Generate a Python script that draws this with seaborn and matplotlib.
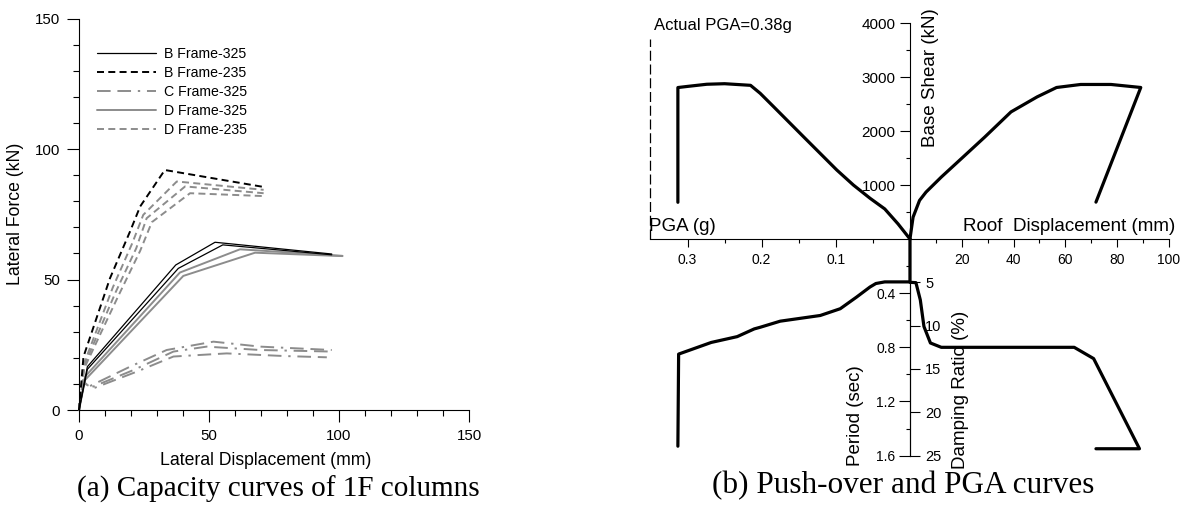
import matplotlib
matplotlib.use("Agg")
import matplotlib.pyplot as plt
from matplotlib.lines import Line2D
import seaborn as sns

# (a) capacity curves of 1F columns: lateral displacement (mm) / lateral force (kN)
b325_1_x = [0, 3.2, 37.2, 52.3, 97.2]
b325_1_y = [0, 16.6, 55.6, 64.3, 59.8]
b325_2_x = [0, 3.2, 38.2, 55.3, 97.2]
b325_2_y = [0, 15.6, 54.3, 63.3, 59.5]

b235_x = [0, 1.7, 11.9, 19.6, 23.5, 33.0, 71.0]
b235_y = [0, 20.4, 50.5, 68.4, 78.0, 92.0, 85.5]

c325_1_x = [0, 1.5, 3.6, 19.6, 33.7, 51.7, 69.6, 97.2]
c325_1_y = [0, 11.5, 8.9, 16.6, 23.0, 26.2, 24.3, 23.0]
c325_2_x = [0, 1.5, 4.5, 20.9, 36.3, 49.1, 69.6, 97.2]
c325_2_y = [0, 11.0, 8.6, 15.3, 22.4, 24.3, 23.0, 22.4]
c325_3_x = [0, 1.5, 5.5, 22.2, 36.3, 56.8, 78.6, 95.3]
c325_3_y = [0, 10.5, 8.3, 14.7, 20.5, 21.7, 20.7, 20.2]

d325_1_x = [0, 2.3, 38.8, 61.9, 101.3]
d325_1_y = [0, 12.8, 52.7, 61.6, 59.1]
d325_2_x = [0, 2.3, 40.1, 67.7, 101.3]
d325_2_y = [0, 11.5, 51.4, 60.3, 59.0]

d235_1_x = [0, 2.0, 13.0, 20.5, 24.7, 37.6, 71.0]
d235_1_y = [0, 18.0, 47.0, 64.0, 74.8, 87.6, 84.4]
d235_2_x = [0, 2.0, 14.0, 22.0, 26.0, 40.8, 71.0]
d235_2_y = [0, 17.0, 45.0, 62.0, 73.5, 85.7, 83.1]
d235_3_x = [0, 2.0, 15.0, 23.5, 28.0, 42.7, 71.0]
d235_3_y = [0, 16.0, 43.5, 61.0, 72.0, 83.1, 82.0]

legend_labels = ["B Frame-325", "B Frame-235", "C Frame-325", "D Frame-325", "D Frame-235"]

# (b) push-over and PGA curves
roof_disp = [0, 1.2, 3.7, 6.2, 12.1, 20.5, 28.9, 39.0, 49.1, 56.6, 65.9, 77.6, 89.1, 71.8]
base_shear = [0, 405, 716, 870, 1149, 1520, 1892, 2357, 2636, 2810, 2866, 2866, 2810, 684]

pga_s = [0.313, 0.313, 0.300, 0.274, 0.250, 0.215, 0.202, 0.184, 0.1436, 0.0987, 0.0763, 0.0538, 0.034, 0.016, 0]
shear_s = [681, 2809, 2830, 2870, 2880, 2850, 2702, 2455, 1897, 1280, 1001, 755, 558, 279, 0]

pga_p = [0, 0, 0.034, 0.046, 0.054, 0.072, 0.094, 0.121, 0.175, 0.202, 0.210, 0.233, 0.268, 0.312, 0.313]
period = [0, 0.317, 0.317, 0.329, 0.355, 0.429, 0.515, 0.565, 0.607, 0.652, 0.664, 0.721, 0.764, 0.850, 1.530]

disp_d = [0, 2.3, 4.0, 5.4, 7.9, 12.1, 63.4, 70.9, 88.6, 71.8]
damping = [5.0, 5.04, 7.04, 10.1, 12.0, 12.5, 12.5, 13.8, 24.2, 24.2]

actual_pga_x = [0.35, 0.35]
actual_pga_y = [0, 3700]

sns.set_style("ticks")
plt.rcParams['font.family'] = ['Liberation Sans', 'DejaVu Sans']
plt.rcParams['axes.linewidth'] = 0.8
for k in ['text.color', 'axes.labelcolor', 'axes.edgecolor', 'xtick.color', 'ytick.color']:
    plt.rcParams[k] = 'black'

fig = plt.figure(figsize=(11.85, 5.08), dpi=100)


def line(ax, x, y, **kw):
    sns.lineplot(x=x, y=y, ax=ax, sort=False, estimator=None, clip_on=False, **kw)


# ---------- (a)
ax = fig.add_axes([0.0667, 0.1929, 0.3291, 0.7703])
gray = '#8c8c8c'
dash = (0, (3.6, 2.2))
dashdot = (0, (7, 3.5, 7, 3.5, 1.2, 3.5))

for xs, ys in [(c325_1_x, c325_1_y), (c325_2_x, c325_2_y), (c325_3_x, c325_3_y)]:
    line(ax, xs, ys, color=gray, lw=1.4, linestyle=dashdot)
for xs, ys in [(d325_1_x, d325_1_y), (d325_2_x, d325_2_y)]:
    line(ax, xs, ys, color=gray, lw=1.4)
for xs, ys in [(d235_1_x, d235_1_y), (d235_2_x, d235_2_y), (d235_3_x, d235_3_y)]:
    line(ax, xs, ys, color=gray, lw=1.4, linestyle=dash)
for xs, ys in [(b325_1_x, b325_1_y), (b325_2_x, b325_2_y)]:
    line(ax, xs, ys, color='black', lw=0.9)
line(ax, b235_x, b235_y, color='black', lw=1.4, linestyle=dash)

handles = [Line2D([], [], color='black', lw=0.9),
           Line2D([], [], color='black', lw=1.4, linestyle=dash),
           Line2D([], [], color=gray, lw=1.4, linestyle=dashdot),
           Line2D([], [], color=gray, lw=1.4),
           Line2D([], [], color=gray, lw=1.4, linestyle=dash)]
ax.legend(handles, legend_labels, loc='upper left', bbox_to_anchor=(0.046, 0.927),
          frameon=False, fontsize=10.2, handlelength=4.2, handletextpad=0.55,
          labelspacing=0.34, borderpad=0, borderaxespad=0)

ax.set_xlim(0, 150)
ax.set_ylim(0, 150)
ax.set_xticks([0, 50, 100, 150])
ax.set_yticks([0, 50, 100, 150])
ax.set_xticks(range(0, 151, 10), minor=True)
ax.set_yticks(range(0, 151, 10), minor=True)
ax.tick_params(which='major', direction='out', length=8.5, width=0.8, labelsize=10.8, pad=5)
ax.tick_params(which='minor', direction='out', length=4, width=0.8)
ax.spines['top'].set_visible(False)
ax.spines['right'].set_visible(False)
ax.text(0.479, -0.13, "Lateral Displacement (mm)", transform=ax.transAxes,
        ha='center', va='center', fontsize=12.7)
ax.text(-0.164, 0.501, "Lateral Force (kN)", transform=ax.transAxes,
        ha='center', va='center', rotation=90, fontsize=12.7)

# ---------- (b)
ul = fig.add_axes([0.5489, 0.5295, 0.2190, 0.4246])
ur = fig.add_axes([0.7679, 0.5295, 0.2186, 0.4246])
ll = fig.add_axes([0.5489, 0.1030, 0.2190, 0.4266])
lr = fig.add_axes([0.7679, 0.1030, 0.2186, 0.4266])
for a in (ul, ur, ll, lr):
    a.patch.set_alpha(0)
    for s in a.spines.values():
        s.set_visible(False)

thick = 2.3
line(ur, roof_disp, base_shear, color='black', lw=thick)
line(ul, pga_s, shear_s, color='black', lw=thick)
line(ll, pga_p, period, color='black', lw=thick)
line(lr, disp_d, damping, color='black', lw=thick)
line(ul, actual_pga_x, actual_pga_y, color='black', lw=0.9, linestyle=(0, (8, 3)))

ul.set_xlim(0.35, 0)
ul.set_ylim(0, 4000)
ur.set_xlim(0, 100)
ur.set_ylim(0, 4000)
ll.set_xlim(0.35, 0)
ll.set_ylim(1.6, 0)
lr.set_xlim(0, 100)
lr.set_ylim(25, 0)

ul.spines['bottom'].set_visible(True)
ul.set_xticks([0.1, 0.2, 0.3])
ul.set_xticklabels(['0.1', '0.2', '0.3'])
ul.set_xticks([0.05, 0.15, 0.25], minor=True)
ul.set_yticks([])

ur.spines['bottom'].set_visible(True)
ur.spines['left'].set_visible(True)
ur.set_xticks([20, 40, 60, 80, 100])
ur.set_xticks([10, 30, 50, 70, 90], minor=True)
ur.set_yticks([1000, 2000, 3000, 4000])
ur.set_yticks([500, 1500, 2500, 3500], minor=True)

ll.spines['left'].set_visible(True)
ll.spines['left'].set_position(('axes', 1.0))
ll.set_xticks([])
ll.set_yticks([0.4, 0.8, 1.2, 1.6])
ll.set_yticklabels(['0.4', '0.8', '1.2', '1.6'])
ll.set_yticks([0.2, 0.6, 1.0, 1.4], minor=True)

lr.spines['right'].set_visible(True)
lr.spines['right'].set_position(('axes', 0.0))
lr.yaxis.set_ticks_position('right')
lr.set_xticks([])
lr.set_yticks([5, 10, 15, 20, 25])

for a in (ul, ur, ll, lr):
    a.tick_params(which='major', direction='out', length=6, width=0.8, labelsize=10, pad=4)
    a.tick_params(which='minor', direction='out', length=3, width=0.8)
ur.tick_params(axis='y', which='major', length=7.5, pad=3, labelsize=11)
ll.tick_params(axis='y', which='major', length=8, pad=2.5)
lr.tick_params(axis='y', which='major', length=7, pad=4, labelsize=10.5)

ur.text(0.079, 0.746, "Base Shear (kN)", transform=ur.transAxes, rotation=90,
        ha='center', va='center', fontsize=13.5)
ur.text(1.023, 0.035, "Roof  Displacement (mm)", transform=ur.transAxes,
        ha='right', va='baseline', fontsize=13.5)
ul.text(-0.004, 0.035, "PGA (g)", transform=ul.transAxes,
        ha='left', va='baseline', fontsize=13.5)
ul.text(0.013, 0.992, "Actual PGA=0.38g", transform=ul.transAxes,
        ha='left', va='center', fontsize=12)
ll.text(0.792, 0.183, "Period (sec)", transform=ll.transAxes, rotation=90,
        ha='center', va='center', fontsize=13.5)
lr.text(0.197, 0.303, "Damping Ratio (%)", transform=lr.transAxes, rotation=90,
        ha='center', va='center', fontsize=13.5)

fig.text(278 / 1185, 1 - 489 / 508, "(a) Capacity curves of 1F columns",
         ha='center', va='center', fontsize=21, family=['Liberation Serif', 'DejaVu Serif'])
fig.text(903 / 1185, 1 - 486 / 508, "(b) Push-over and PGA curves",
         ha='center', va='center', fontsize=22.5, family=['Liberation Serif', 'DejaVu Serif'])

fig.savefig("out.png", dpi=100)
